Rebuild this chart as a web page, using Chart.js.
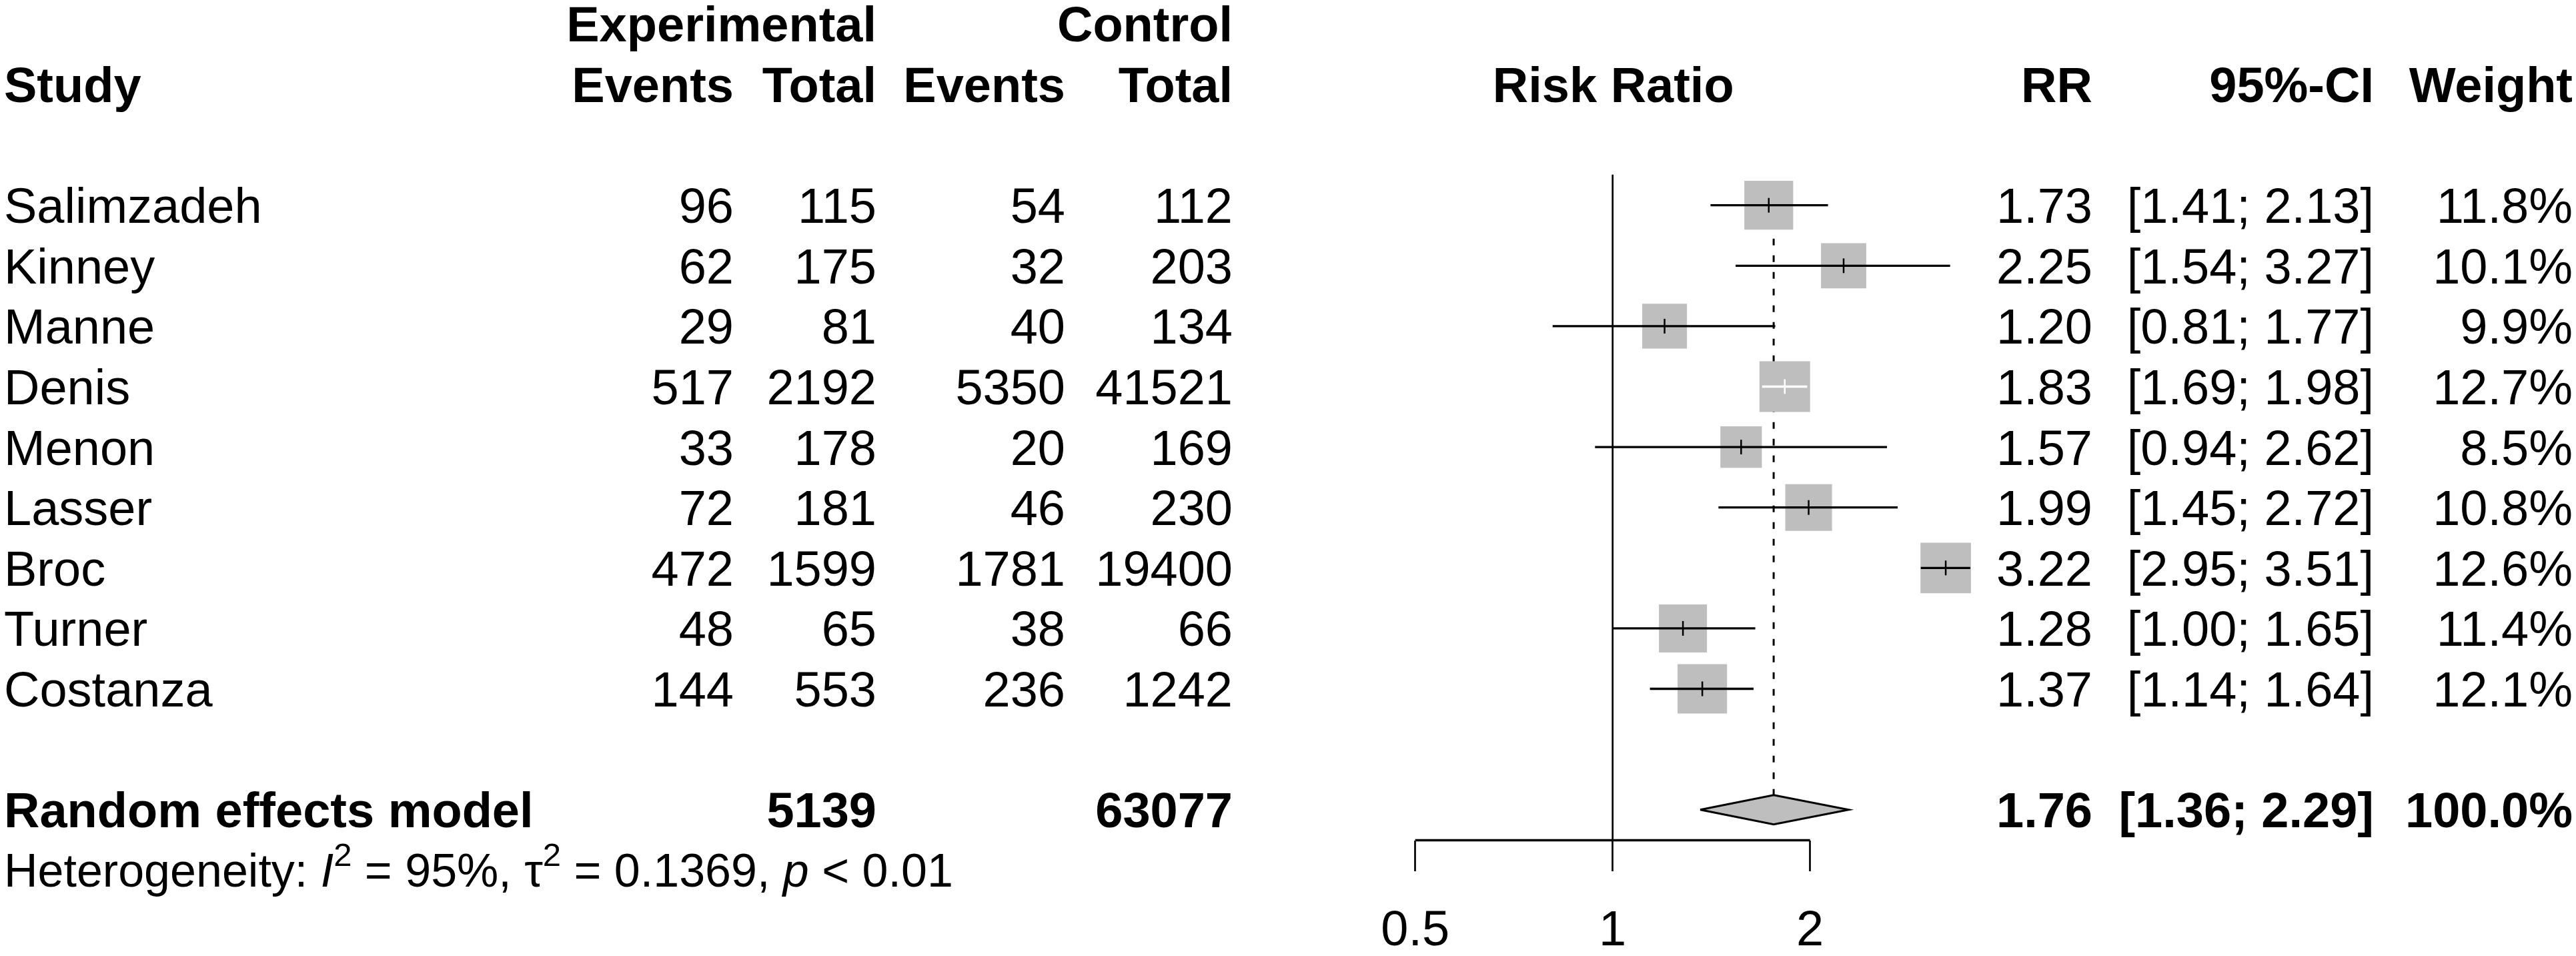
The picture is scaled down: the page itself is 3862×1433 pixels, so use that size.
<!DOCTYPE html>
<html>
<head>
<meta charset="utf-8">
<title>Forest plot - Risk Ratio</title>
<script src="https://cdn.jsdelivr.net/npm/chart.js@4.4.1/dist/chart.umd.min.js"></script>
<style>
  html, body { margin: 0; padding: 0; background: #ffffff; }
  canvas { display: block; }
</style>
</head>
<body>
<canvas id="forest" width="3862" height="1433"></canvas>
<script>
// study data
const studies    = ['Salimzadeh', 'Kinney', 'Manne', 'Denis', 'Menon', 'Lasser', 'Broc', 'Turner', 'Costanza'];
const expEvents  = [96, 62, 29, 517, 33, 72, 472, 48, 144];
const expTotal   = [115, 175, 81, 2192, 178, 181, 1599, 65, 553];
const ctrlEvents = [54, 32, 40, 5350, 20, 46, 1781, 38, 236];
const ctrlTotal  = [112, 203, 134, 41521, 169, 230, 19400, 66, 1242];
const rr         = [1.73, 2.25, 1.20, 1.83, 1.57, 1.99, 3.22, 1.28, 1.37];
const ciLow      = [1.41, 1.54, 0.81, 1.69, 0.94, 1.45, 2.95, 1.00, 1.14];
const ciHigh     = [2.13, 3.27, 1.77, 1.98, 2.62, 2.72, 3.51, 1.65, 1.64];
const weight     = [11.8, 10.1, 9.9, 12.7, 8.5, 10.8, 12.6, 11.4, 12.1];

// random effects model
const pooledRR   = 1.76;
const pooledLow  = 1.36;
const pooledHigh = 2.29;
const pooledWeight = 100.0;
const hetI2   = 95;
const hetTau2 = 0.1369;
const hetP    = '< 0.01';

const xTicks = [0.5, 1, 2];

// layout (pixels)
const W = 3862, H = 1433;
const FONT = '"Liberation Sans", Arial, Helvetica, sans-serif';
const FS = 74;          // table font size
const FS_HET = 70;      // heterogeneity line
const CAP_MID = 0.358;  // cap-height centre, in em
const ROW0_PX = 307.7;  // centre of first study row
const ROW_PX = 90.6;    // row pitch
const AXIS_PX = 1259.5; // x axis line
const X1_PX = 2417.7;   // position of RR = 1
const PX_PER_DOUBLING = 296;
const PAD_X = 10;
const BOX_MAX = 76;     // side of the largest square
const DIAMOND_H = 22 / ROW_PX; // half height of diamond, in rows
const LINE_TOP = -0.508; // top of the line of no effect, in rows
const GREY = '#bebebe';

const POOLED_ROW = studies.length + 1;
const HET_ROW = POOLED_ROW + 1;
const AXIS_ROW = (AXIS_PX - ROW0_PX) / ROW_PX;
const Y_MIN = -ROW0_PX / ROW_PX;

const perDecade = PX_PER_DOUBLING / Math.log10(2);
const X_MIN = Math.pow(10, -(X1_PX - PAD_X) / perDecade);
const X_MAX = Math.pow(10, (W - PAD_X - X1_PX) / perDecade);

const maxW = Math.max(...weight);
const boxSide = i => BOX_MAX * Math.sqrt(weight[i] / maxW);

// CI drawn white when it fits inside the square
function ciInside(chart, i) {
  const xs = chart.scales.x;
  const c = xs.getPixelForValue(rr[i]);
  const half = boxSide(i) / 2;
  return xs.getPixelForValue(ciLow[i]) > c - half + 2 &&
         xs.getPixelForValue(ciHigh[i]) < c + half - 2;
}

const ciData = [];
studies.forEach((s, i) => {
  ciData.push({ x: ciLow[i], y: i }, { x: ciHigh[i], y: i }, { x: rr[i], y: null });
});

const tableText = {
  id: 'tableText',
  afterDraw(chart) {
    const { ctx, scales: { x, y } } = chart;
    const put = (txt, px, row, align, bold, size) => {
      size = size || FS;
      ctx.font = (bold ? 'bold ' : '') + size + 'px ' + FONT;
      ctx.textAlign = align;
      ctx.textBaseline = 'alphabetic';
      ctx.fillText(txt, px, y.getPixelForValue(row) + CAP_MID * size);
    };
    const col = { study: 6, expEv: 1100, expTot: 1314, ctrlEv: 1597, ctrlTot: 1848, rr: 3137, ci: 3559, w: 3857 };
    ctx.save();
    ctx.fillStyle = '#000';

    // headers
    put('Experimental', col.expTot, -3, 'right', true);
    put('Control', col.ctrlTot, -3, 'right', true);
    put('Study', col.study, -2, 'left', true);
    put('Events', col.expEv, -2, 'right', true);
    put('Total', col.expTot, -2, 'right', true);
    put('Events', col.ctrlEv, -2, 'right', true);
    put('Total', col.ctrlTot, -2, 'right', true);
    put('Risk Ratio', x.getPixelForValue(1) + 1, -2, 'center', true);
    put('RR', col.rr, -2, 'right', true);
    put('95%-CI', col.ci, -2, 'right', true);
    put('Weight', col.w, -2, 'right', true);

    // study rows
    studies.forEach((s, i) => {
      put(s, col.study, i, 'left');
      put(String(expEvents[i]), col.expEv, i, 'right');
      put(String(expTotal[i]), col.expTot, i, 'right');
      put(String(ctrlEvents[i]), col.ctrlEv, i, 'right');
      put(String(ctrlTotal[i]), col.ctrlTot, i, 'right');
      put(rr[i].toFixed(2), col.rr, i, 'right');
      put('[' + ciLow[i].toFixed(2) + '; ' + ciHigh[i].toFixed(2) + ']', col.ci, i, 'right');
      put(weight[i].toFixed(1) + '%', col.w, i, 'right');
    });

    // pooled row
    const sum = a => a.reduce((p, v) => p + v, 0);
    put('Random effects model', col.study, POOLED_ROW, 'left', true);
    put(String(sum(expTotal)), col.expTot, POOLED_ROW, 'right', true);
    put(String(sum(ctrlTotal)), col.ctrlTot, POOLED_ROW, 'right', true);
    put(pooledRR.toFixed(2), col.rr, POOLED_ROW, 'right', true);
    put('[' + pooledLow.toFixed(2) + '; ' + pooledHigh.toFixed(2) + ']', col.ci, POOLED_ROW, 'right', true);
    put(pooledWeight.toFixed(1) + '%', col.w, POOLED_ROW, 'right', true);

    // heterogeneity line with italics and superscripts
    const parts = [
      ['Heterogeneity: ', 'n'], ['I', 'i'], ['2', 's'], [' = ' + hetI2 + '%, ', 'n'],
      ['\u03c4', 'n'], ['2', 's'], [' = ' + hetTau2 + ', ', 'n'], ['p', 'i'], [' ' + hetP, 'n']
    ];
    const base = y.getPixelForValue(HET_ROW) + CAP_MID * FS_HET;
    let px = col.study;
    ctx.textAlign = 'left';
    parts.forEach(([t, st]) => {
      let yy = base;
      if (st === 's') {
        ctx.font = Math.round(FS_HET * 0.7) + 'px ' + FONT;
        yy = base - FS_HET * 0.45;
      } else {
        ctx.font = (st === 'i' ? 'italic ' : '') + FS_HET + 'px ' + FONT;
      }
      ctx.fillText(t, px, yy);
      px += ctx.measureText(t).width;
    });
    ctx.restore();
  }
};

const forest = new Chart(document.getElementById('forest'), {
  type: 'scatter',
  data: {
    datasets: [
      {
        // point estimate tick
        data: rr.map((v, i) => ({ x: v, y: i })),
        pointStyle: 'line',
        rotation: 90,
        pointRadius: 11,
        borderWidth: 2.5,
        borderColor: c => ciInside(c.chart, c.dataIndex) ? '#ffffff' : '#000000',
        clip: false
      },
      {
        // confidence intervals
        data: ciData,
        showLine: true,
        pointRadius: 0,
        borderWidth: 3.3,
        borderColor: '#000000',
        segment: {
          borderColor: c => ciInside(c.chart, Math.floor(c.p0DataIndex / 3)) ? '#ffffff' : '#000000'
        },
        clip: false
      },
      {
        // weight squares
        data: rr.map((v, i) => ({ x: v, y: i })),
        pointStyle: 'rect',
        pointRadius: c => boxSide(c.dataIndex) / Math.SQRT2,
        backgroundColor: GREY,
        borderWidth: 0,
        clip: false
      },
      {
        // pooled diamond
        data: [
          { x: pooledLow, y: POOLED_ROW },
          { x: pooledRR, y: POOLED_ROW - DIAMOND_H },
          { x: pooledHigh, y: POOLED_ROW },
          { x: pooledRR, y: POOLED_ROW + DIAMOND_H },
          { x: pooledLow, y: POOLED_ROW }
        ],
        showLine: true,
        tension: 0,
        fill: 'shape',
        backgroundColor: GREY,
        borderColor: '#000000',
        borderWidth: 3,
        borderJoinStyle: 'miter',
        pointRadius: 0,
        clip: false
      },
      {
        // pooled estimate dashed line (starts behind the first square)
        data: [{ x: pooledRR, y: 0 }, { x: pooledRR, y: POOLED_ROW - DIAMOND_H }],
        showLine: true,
        pointRadius: 0,
        borderWidth: 3,
        borderDash: [10, 15],
        borderColor: '#000000',
        clip: false
      },
      {
        // line of no effect
        data: [{ x: 1, y: LINE_TOP }, { x: 1, y: AXIS_ROW }],
        showLine: true,
        pointRadius: 0,
        borderWidth: 2.7,
        borderColor: '#000000',
        clip: false
      },
      {
        // axis line between outer ticks
        data: [{ x: xTicks[0], y: AXIS_ROW }, { x: xTicks[xTicks.length - 1], y: AXIS_ROW }],
        showLine: true,
        pointRadius: 0,
        borderWidth: 3.5,
        borderColor: '#000000',
        borderCapStyle: 'butt',
        clip: false
      }
    ]
  },
  options: {
    responsive: false,
    animation: false,
    devicePixelRatio: 1,
    events: [],
    layout: { autoPadding: false, padding: { left: PAD_X, right: PAD_X, top: 0, bottom: 0 } },
    plugins: { legend: { display: false }, tooltip: { enabled: false } },
    scales: {
      x: {
        type: 'logarithmic',
        position: 'bottom',
        min: X_MIN,
        max: X_MAX,
        afterBuildTicks: s => { s.ticks = xTicks.map(v => ({ value: v })); },
        afterFit: s => { s.height = H - AXIS_PX; },
        border: { display: false },
        grid: {
          drawOnChartArea: false,
          drawTicks: true,
          tickLength: 46.5,
          tickWidth: 2.7,
          tickColor: '#000000'
        },
        ticks: {
          autoSkip: false,
          maxRotation: 0,
          padding: 46,
          color: '#000000',
          font: { family: FONT, size: FS },
          callback: v => String(v)
        }
      },
      y: {
        type: 'linear',
        display: false,
        reverse: true,
        min: Y_MIN,
        max: AXIS_ROW
      }
    }
  },
  plugins: [tableText]
});
</script>
</body>
</html>
